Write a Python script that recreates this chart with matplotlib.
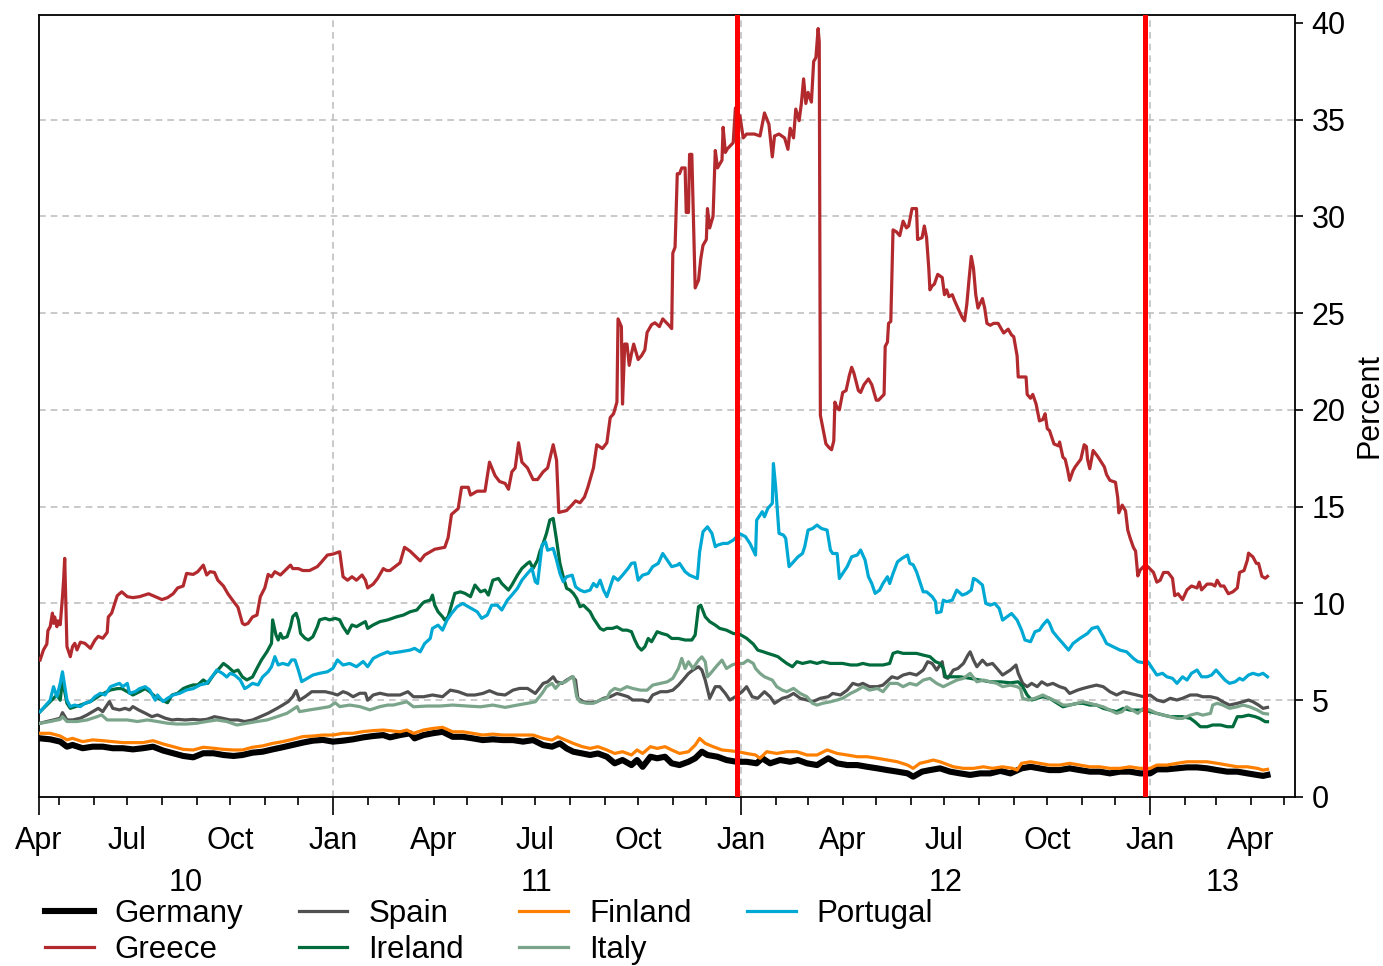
import matplotlib
matplotlib.use("Agg")
import matplotlib.pyplot as plt
import matplotlib.dates as mdates
import pandas as pd

plt.rcParams['font.family'] = ['Liberation Sans', 'DejaVu Sans']

# ---------------- data (x = calendar days since 2010-04-13, y = percent) ----------------
base_date = "2010-04-13"
end_days = 1123.6

germany_day = [1,10,19,25,30,39,48,57,66,75,84,93,102,111,120,129,138,147,156,165,174,182,191,200,209,218,227,236,245,254,263,272,281,290,299,308,314,
               323,332,336,344,352,361,370,379,388,397,406,415,424,433,442,451,459,466,472,478,486,493,500,508,515,522,530,535,540,547,553,560,566,573,581,587,593,598,607,615,624,633,642,
               647,654,663,672,679,687,696,706,714,723,732,741,750,759,768,777,782,790,797,806,815,824,833,842,851,860,869,879,887,895,904,913,922,931,940,949,958,967,976,985,994,1000,1009,1018,1027,1036,1045,1054,1063,1072,1081,1090,1095,1099]
germany_val = [3.03,2.98,2.86,2.60,2.69,2.52,2.60,2.60,2.52,2.52,2.46,2.52,2.60,2.40,2.26,2.12,2.05,2.26,2.26,2.17,2.12,2.17,2.29,2.34,2.46,2.57,2.69,2.81,2.91,2.95,2.86,2.91,2.98,3.08,3.15,3.20,3.08,
               3.20,3.29,3.03,3.20,3.29,3.37,3.11,3.11,3.03,2.94,2.98,2.94,2.94,2.86,2.94,2.68,2.60,2.77,2.51,2.34,2.25,2.17,2.25,2.08,1.74,1.91,1.65,1.91,1.56,2.08,2.00,2.08,1.74,1.65,1.82,2.00,2.34,2.17,2.08,1.91,1.82,1.82,1.74,
               2.00,1.74,1.91,1.82,1.91,1.74,1.65,2.00,1.74,1.65,1.65,1.56,1.48,1.39,1.31,1.22,1.05,1.31,1.39,1.48,1.31,1.22,1.14,1.22,1.22,1.35,1.22,1.48,1.56,1.48,1.39,1.39,1.48,1.39,1.31,1.31,1.22,1.31,1.31,1.22,1.22,1.43,1.43,1.48,1.53,1.53,1.48,1.39,1.31,1.31,1.22,1.14,1.09,1.14]

greece_day = [1,4,7,8,10,12,13,14,16,17,19,21,22,23,25,28,30,32,34,37,41,46,50,53,57,61,62,65,70,74,
              79,84,90,98,104,110,115,120,124,129,132,138,142,147,150,153,157,160,165,169,174,178,182,184,187,191,195,198,202,205,
              208,211,216,220,225,227,232,236,242,249,253,258,263,269,272,276,280,284,289,292,294,299,303,308,311,314,
              323,327,332,341,345,354,363,366,369,375,378,384,386,392,399,403,408,412,417,420,423,426,429,432,437,442,446,451,455,460,
              463,465,472,477,480,484,488,491,496,499,504,508,511,514,517,518,521,522,524,526,528,530,532,536,539,542,544,548,551,555,
              558,563,566,567,569,571,573,575,578,579,581,582,584,587,590,592,594,597,598,600,603,605,607,611,612,614,616,621,623,624,
              627,630,633,640,645,649,653,656,658,662,667,670,672,675,677,680,682,684,686,688,691,693,695,697,698,699,701,704,707,709,
              711,712,714,716,719,722,725,727,729,733,735,738,742,745,749,751,756,757,759,760,762,764,767,770,773,776,778,781,785,786,
              790,792,794,796,797,799,801,804,808,810,812,814,817,819,822,826,828,830,832,834,836,838,840,842,844,846,848,851,854,858,
              860,863,867,870,872,875,876,883,884,887,889,892,895,898,900,902,904,908,912,913,916,918,920,922,925,927,932,935,937,938,
              940,943,947,953,955,958,963,965,966,969,972,974,976,979,981,983,985,988,992,997,1000,1003,1006,1010,1014,1016,1019,1023,1027,1031,
              1036,1038,1040,1045,1049,1052,1054,1057,1060,1064,1068,1072,1074,1078,1081,1082,1086,1089,1091,1094,1097,1099]
greece_val = [7.08,7.60,7.90,8.60,8.80,9.50,8.97,9.30,8.80,9.10,8.90,10.35,11.20,12.33,7.77,7.25,7.77,7.94,7.60,8.00,7.94,7.68,8.10,8.30,8.20,8.50,9.30,9.50,10.40,10.60,
              10.35,10.30,10.35,10.50,10.35,10.20,10.30,10.50,10.80,10.90,11.55,11.50,11.64,11.98,11.47,11.64,11.60,11.20,10.90,10.50,10.10,9.80,8.97,8.90,8.97,9.30,9.40,10.35,10.80,11.50,
              11.38,11.64,11.47,11.70,11.98,11.80,11.80,11.70,11.70,11.90,12.16,12.50,12.55,12.67,11.38,11.20,11.38,11.20,11.47,11.20,10.80,11.00,11.30,11.80,11.70,11.70,
              12.10,12.90,12.70,12.20,12.50,12.80,12.90,13.40,14.60,14.90,16.00,16.00,15.60,15.80,15.80,17.30,16.60,16.30,16.20,15.90,16.80,17.00,18.30,17.30,17.00,16.40,16.40,16.80,17.00,18.20,
              17.40,14.70,14.80,15.10,15.30,15.20,15.50,16.00,17.00,18.20,18.00,18.30,19.60,19.80,20.40,24.70,24.30,20.30,23.40,23.40,22.30,22.90,23.40,22.60,22.80,23.10,24.00,24.40,24.50,24.30,
              24.70,24.40,24.20,28.10,28.40,32.20,32.20,32.50,32.50,30.20,30.20,33.20,33.20,26.30,26.70,27.80,28.50,28.80,30.40,29.40,30.00,33.40,32.50,32.90,34.60,33.30,33.50,33.80,35.60,33.90,
              35.20,34.05,34.25,34.25,34.15,35.34,34.75,33.07,34.15,34.25,34.05,33.46,34.55,34.05,35.54,34.94,35.83,37.10,35.83,36.40,35.90,38.00,38.20,39.70,39.00,19.72,19.13,18.24,18.04,17.94,
              18.40,20.40,20.10,20.00,20.90,21.00,21.80,22.20,21.90,21.00,20.90,21.30,21.60,21.30,20.50,20.50,20.80,23.28,23.50,24.47,24.57,29.30,29.20,29.00,29.75,29.40,29.50,30.40,30.40,28.80,
              28.90,29.50,28.90,27.30,26.20,26.40,26.50,27.00,26.84,25.95,26.20,25.85,25.95,25.65,25.26,24.76,24.60,25.45,26.74,27.93,27.30,25.95,25.26,25.50,25.75,25.26,24.47,24.37,24.47,24.47,
              24.27,23.97,24.17,23.87,23.78,22.79,21.70,21.70,20.80,20.60,20.80,20.30,19.43,19.50,19.80,19.03,18.93,18.24,18.14,18.34,17.55,17.45,16.96,16.36,16.86,17.06,17.45,18.20,18.10,17.45,
              16.96,17.90,17.60,17.06,16.66,16.36,16.26,15.47,14.68,15.08,14.78,13.79,13.40,12.90,12.70,11.42,11.72,11.90,11.90,11.60,11.10,11.20,11.60,11.60,11.30,10.40,10.50,10.20,10.70,10.90,
              10.80,11.10,10.70,11.00,11.00,10.90,11.20,10.90,10.90,10.50,10.60,10.80,11.60,11.70,12.24,12.60,12.40,12.07,12.07,11.40,11.30,11.40]

spain_day = [1,7,13,19,21,25,30,37,43,48,53,57,63,66,72,77,81,84,89,95,101,106,113,119,124,131,138,144,150,157,
             164,171,178,184,191,198,205,213,218,223,227,230,233,238,244,250,256,262,267,272,276,281,287,292,294,299,305,312,
             323,330,335,344,352,361,368,375,383,390,397,403,410,417,424,430,437,444,451,455,460,463,468,472,477,480,482,487,493,499,
             505,511,517,522,527,531,540,545,549,556,562,567,572,576,581,585,590,593,596,600,605,609,614,618,623,629,633,638,
             643,649,654,658,665,670,675,681,687,692,699,706,710,717,723,728,733,737,743,750,755,763,768,773,779,785,791,795,799,803,
             808,810,813,818,822,827,831,833,836,839,844,848,853,857,862,869,
             874,876,880,884,888,893,897,902,907,913,918,922,929,934,940,946,952,958,964,970,976,982,988,994,1000,1006,1012,1018,1023,1030,
             1036,1041,1048,1054,1059,1065,1072,1077,1082,1086,1091,1095,1099]
spain_val = [3.81,3.90,3.98,4.07,4.36,3.98,3.98,4.07,4.24,4.41,4.58,4.41,4.93,4.58,4.50,4.58,4.50,4.67,4.50,4.33,4.15,4.24,4.07,3.98,4.01,3.98,4.01,3.98,4.01,4.15,
             4.07,3.98,3.98,3.90,3.98,4.15,4.33,4.58,4.75,4.93,5.18,5.50,5.00,5.18,5.44,5.44,5.44,5.36,5.27,5.44,5.36,5.18,5.36,5.36,5.00,5.27,5.36,5.27,
             5.27,5.44,5.18,5.18,5.27,5.18,5.52,5.44,5.27,5.27,5.35,5.49,5.32,5.27,5.52,5.61,5.61,5.35,5.87,5.95,6.21,5.95,5.87,6.04,6.21,6.04,5.10,4.92,4.87,4.92,
             5.10,5.18,5.35,5.27,5.18,5.01,5.01,4.92,5.27,5.44,5.44,5.52,5.78,6.04,6.38,6.56,6.73,6.56,6.04,5.10,5.70,5.70,5.35,5.01,5.18,5.44,5.70,5.18,
             5.10,5.44,5.18,4.84,5.10,5.18,5.35,5.10,5.01,4.92,5.10,5.18,5.35,5.27,5.52,5.87,5.78,5.87,5.70,5.70,5.78,6.21,6.13,6.30,6.39,6.30,6.56,6.99,6.90,6.56,
             6.99,6.21,6.13,6.56,6.64,6.90,7.33,7.50,7.07,6.73,7.07,6.82,6.90,6.64,6.30,6.56,
             6.82,6.39,5.87,5.70,5.87,5.70,5.95,5.78,5.87,5.70,5.61,5.35,5.52,5.61,5.70,5.78,5.70,5.44,5.27,5.44,5.35,5.27,5.18,5.27,5.01,4.92,5.10,5.01,5.10,5.27,
             5.27,5.18,5.18,5.10,4.92,4.75,4.84,4.92,5.01,4.92,4.75,4.58,4.63]

ireland_day = [1,10,16,19,21,25,28,37,46,55,64,70,74,79,84,90,95,99,104,110,115,119,124,129,133,138,142,147,151,156,
               160,165,169,174,178,182,186,191,195,199,204,208,209,212,214,216,218,222,225,227,230,232,234,238,241,245,249,251,256,260,
               265,269,272,276,280,284,289,292,294,299,305,312,
               320,326,332,338,343,345,350,352,354,357,361,363,366,369,372,377,381,386,390,395,399,402,406,411,414,420,423,428,432,437,
               439,442,446,448,451,454,457,460,463,466,469,472,475,478,481,484,487,493,496,499,502,505,508,513,517,522,526,530,533,536,
               539,542,545,548,553,557,562,566,572,578,584,587,590,592,596,600,605,609,615,621,627,
               633,639,643,648,652,657,661,665,669,674,678,683,690,696,701,708,714,719,726,732,737,743,750,755,761,764,768,773,779,785,
               791,797,802,806,809,811,817,824,833,842,851,860,869,876,
               880,884,888,893,898,904,911,916,922,929,934,940,946,952,958,964,970,976,982,988,994,1000,1006,1012,1018,1023,1030,1034,1039,1045,
               1050,1057,1063,1068,1072,1076,1082,1088,1092,1097,1099]
ireland_val = [4.41,4.93,5.27,5.00,6.05,4.84,4.58,4.75,4.93,5.27,5.53,5.60,5.60,5.44,5.27,5.44,5.60,5.44,5.18,5.00,4.87,5.27,5.36,5.60,5.70,5.79,5.79,6.05,5.87,6.30,
               6.56,6.90,6.73,6.47,6.56,6.20,6.05,6.20,6.65,7.08,7.51,7.94,9.15,8.37,8.11,8.45,8.20,8.28,8.80,9.32,9.49,9.15,8.45,8.20,8.11,8.28,8.80,9.15,9.23,9.15,
               9.23,9.15,8.80,8.45,8.89,8.80,8.97,9.06,8.71,8.89,9.06,9.15,
               9.31,9.40,9.57,9.66,10.00,10.09,10.17,10.43,9.91,9.57,9.31,9.14,9.31,9.91,10.52,10.60,10.52,10.35,10.95,10.60,10.69,10.43,11.20,11.29,11.03,10.69,10.95,11.46,11.81,12.07,
               12.15,11.81,12.24,12.67,13.10,13.62,14.31,14.39,13.27,12.07,11.38,10.78,10.69,10.52,10.26,9.83,9.91,9.57,9.23,8.97,8.71,8.62,8.71,8.71,8.79,8.62,8.62,8.54,8.11,7.76,
               7.59,7.76,8.19,8.02,8.54,8.45,8.37,8.19,8.19,8.11,8.11,8.37,9.83,9.91,9.31,9.06,8.88,8.71,8.62,8.45,8.40,
               8.20,7.90,7.59,7.50,7.42,7.33,7.25,7.07,6.90,6.73,6.99,6.90,6.99,6.90,6.99,6.90,6.90,6.90,6.82,6.82,6.90,6.82,6.82,6.82,6.90,7.42,7.50,7.42,7.42,7.42,
               7.33,7.25,6.99,6.90,6.65,6.21,6.21,6.21,6.13,6.04,5.95,5.95,5.90,5.95,
               5.70,5.27,5.01,5.10,5.18,5.10,4.84,4.66,4.75,4.84,4.84,4.75,4.75,4.58,4.49,4.41,4.58,4.49,4.49,4.49,4.41,4.32,4.23,4.15,4.15,4.15,4.06,3.89,3.63,3.63,
               3.72,3.72,3.63,3.63,4.15,4.15,4.23,4.15,4.06,3.89,3.89]

finland_day = [1,10,19,25,30,39,48,57,66,75,84,93,102,111,120,129,138,147,156,165,174,182,191,200,209,218,227,236,245,254,263,272,281,290,299,308,
               323,329,335,344,352,361,370,379,388,397,406,415,424,433,442,451,459,464,471,478,486,493,500,508,515,522,530,535,540,547,553,560,566,573,581,587,591,596,603,611,618,625,633,641,645,
               651,660,669,678,687,696,705,714,723,732,741,750,759,768,777,782,788,794,800,806,818,827,836,845,853,862,871,
               875,879,887,895,904,913,922,931,940,949,958,967,976,985,994,1000,1009,1018,1027,1036,1045,1054,1063,1072,1081,1090,1095,1099]
finland_val = [3.29,3.29,3.15,2.95,3.03,2.86,2.95,2.91,2.86,2.81,2.81,2.81,2.91,2.74,2.60,2.46,2.43,2.57,2.52,2.46,2.43,2.43,2.57,2.64,2.77,2.86,2.98,3.12,3.15,3.20,3.20,3.29,3.29,3.38,3.43,3.46,
               3.37,3.46,3.29,3.46,3.54,3.60,3.37,3.37,3.29,3.20,3.25,3.20,3.20,3.20,3.20,3.03,2.94,3.11,2.94,2.77,2.60,2.51,2.60,2.43,2.25,2.34,2.17,2.43,2.25,2.60,2.51,2.60,2.43,2.25,2.34,2.68,3.03,2.77,2.60,2.43,2.39,2.34,2.25,2.17,2.00,
               2.34,2.25,2.34,2.34,2.17,2.17,2.43,2.25,2.17,2.08,2.08,2.00,1.91,1.82,1.65,1.48,1.74,1.82,1.91,1.82,1.56,1.48,1.48,1.56,1.48,1.56,1.48,
               1.39,1.74,1.82,1.74,1.65,1.65,1.74,1.65,1.56,1.56,1.48,1.48,1.56,1.48,1.48,1.65,1.65,1.74,1.82,1.82,1.82,1.74,1.65,1.56,1.56,1.48,1.39,1.43]

italy_day = [1,10,19,21,25,34,43,52,56,61,70,79,88,97,106,115,123,132,141,150,159,168,177,186,195,204,213,222,231,233,242,251,260,265,269,278,287,296,305,312,
             317,329,335,347,359,370,383,395,406,417,428,437,444,450,454,459,462,466,471,475,478,481,484,490,496,502,508,511,515,520,
             526,531,538,544,549,556,562,567,572,575,578,581,585,590,593,596,598,602,607,611,615,620,624,630,634,639,
             641,645,649,656,660,665,669,675,681,687,692,696,701,708,714,719,726,732,737,743,750,755,761,768,773,779,785,791,797,803,
             809,815,821,827,833,839,845,851,857,862,869,875,
             878,880,885,891,898,904,911,916,922,929,934,940,946,952,958,964,969,973,978,983,988,994,1000,1006,1012,1018,1023,1030,1036,1041,
             1048,1050,1054,1059,1065,1072,1077,1083,1090,1095,1099]
italy_val = [3.81,3.90,4.01,4.15,3.90,3.90,3.98,4.15,4.24,3.98,3.98,3.98,3.90,3.98,3.90,3.81,3.77,3.77,3.81,3.90,3.98,3.90,3.72,3.81,3.90,3.98,4.15,4.33,4.67,4.41,4.50,4.58,4.67,4.87,4.67,4.75,4.67,4.50,4.67,4.75,
             4.75,4.92,4.66,4.70,4.70,4.75,4.70,4.66,4.75,4.63,4.75,4.84,4.92,5.35,5.70,5.87,5.61,5.87,5.95,6.13,6.21,5.18,4.92,4.84,4.84,5.01,5.10,5.44,5.61,5.52,
             5.70,5.61,5.52,5.52,5.78,5.87,5.95,6.13,6.64,7.16,6.64,6.99,6.64,7.07,7.24,6.99,6.21,6.47,6.82,7.07,6.64,6.82,6.90,6.90,7.07,6.90,
             6.64,6.39,6.21,6.04,5.70,5.52,5.44,5.61,5.35,5.18,4.84,4.75,4.84,4.92,5.01,5.10,5.35,5.52,5.70,5.52,5.61,5.44,5.87,5.87,5.70,5.87,5.78,6.04,6.13,5.87,
             5.70,5.87,6.04,6.13,6.39,5.95,6.04,5.95,5.87,5.70,5.78,5.70,
             5.60,5.10,5.01,5.10,5.27,5.10,4.92,4.75,4.75,4.84,4.92,4.84,4.75,4.66,4.49,4.32,4.41,4.66,4.49,4.32,4.58,4.49,4.32,4.23,4.15,4.06,4.06,4.23,4.32,4.23,
             4.32,4.75,4.84,4.75,4.58,4.66,4.75,4.66,4.49,4.32,4.29]

portugal_day = [1,5,10,13,16,19,21,25,28,32,37,41,46,50,55,59,64,68,72,75,79,81,86,90,95,99,104,106,111,115,
                120,126,132,138,144,150,156,159,164,168,171,175,180,184,187,191,196,200,205,208,211,214,218,223,226,229,232,235,240,245,
                251,258,263,267,272,278,284,290,294,299,305,312,
                314,323,332,336,341,345,350,352,357,361,365,369,374,379,384,388,392,396,401,405,410,414,419,423,428,432,437,441,444,446,
                450,453,455,460,463,466,469,472,477,480,484,488,493,496,499,502,505,508,511,514,518,522,527,530,533,536,540,545,549,554,
                558,562,566,571,573,578,582,589,591,594,598,602,605,607,612,616,621,627,632,636,641,
                642,647,649,652,656,657,659,662,666,668,671,675,679,683,685,688,692,696,700,705,708,710,714,716,719,723,727,732,735,739,
                742,745,748,752,755,759,761,764,768,772,777,779,782,785,791,794,799,802,803,807,809,812,817,821,826,830,834,836,839,844,
                847,851,855,859,862,866,870,
                875,879,882,887,891,895,898,902,904,907,912,916,921,925,931,938,942,947,952,955,961,967,973,979,983,988,992,997,1000,1005,
                1009,1014,1018,1023,1027,1031,1036,1040,1045,1049,1053,1057,1061,1065,1070,1074,1077,1082,1086,1091,1095,1099]
portugal_val = [4.41,4.67,5.00,5.70,5.18,5.87,6.47,5.00,4.67,4.75,4.67,4.84,4.93,5.18,5.36,5.27,5.70,5.79,5.87,5.70,5.87,5.36,5.44,5.60,5.70,5.53,5.00,5.27,4.93,5.10,
                5.27,5.36,5.53,5.60,5.79,5.87,6.30,6.56,6.39,6.20,6.39,6.30,6.05,5.60,5.70,5.87,5.79,6.20,6.47,6.73,7.25,6.82,6.90,6.82,7.08,7.08,6.56,5.96,6.13,6.30,
                6.39,6.47,6.65,7.08,6.82,6.90,6.73,7.00,6.73,7.16,7.34,7.50,
                7.42,7.50,7.59,7.68,7.50,7.93,8.19,8.71,8.88,8.62,9.14,9.48,9.83,10.00,9.83,9.70,9.57,9.23,9.40,9.91,9.91,9.66,10.17,10.43,10.78,11.20,11.55,11.81,11.12,11.03,
                13.01,13.19,12.75,12.84,12.24,11.55,11.12,11.38,11.46,10.86,10.69,10.60,10.69,11.03,10.86,11.20,10.69,10.35,10.86,11.38,11.20,11.46,11.81,12.07,12.10,11.20,11.46,11.55,11.90,12.07,
                12.58,12.24,11.90,11.98,12.07,11.64,11.46,11.29,12.67,13.70,13.96,13.62,12.93,13.01,13.10,13.10,13.27,13.60,13.45,13.10,12.50,
                14.30,14.74,14.48,14.91,15.17,17.23,16.03,13.62,13.53,13.36,11.90,12.15,12.41,12.58,12.93,13.79,13.87,14.05,13.87,13.79,12.76,12.58,12.58,11.29,11.55,11.90,12.41,12.50,12.76,12.24,
                11.38,11.03,10.52,10.69,11.03,11.38,11.03,11.55,12.15,12.33,12.50,12.07,12.00,11.64,10.60,10.60,10.35,10.09,9.52,9.57,10.17,10.09,10.17,10.69,10.43,10.52,10.69,11.29,11.20,10.95,
                10.00,9.91,10.00,9.74,9.14,9.31,9.48,
                9.14,8.62,8.11,8.02,8.54,8.62,8.88,9.14,8.97,8.54,8.19,7.93,7.59,7.93,8.19,8.45,8.71,8.79,8.28,7.93,7.76,7.59,7.50,7.16,6.99,6.94,6.99,6.56,6.30,6.39,
                6.21,6.13,5.87,6.21,6.04,6.39,6.56,6.21,6.21,6.30,6.56,6.30,6.04,5.87,5.95,6.13,6.04,6.30,6.39,6.30,6.39,6.21]

event_dates = ["2011-12-28", "2012-12-27"]

quarter_dates = ["2010-04-13", "2010-07-01", "2010-10-01", "2011-01-01", "2011-04-01", "2011-07-01",
                 "2011-10-01", "2012-01-01", "2012-04-01", "2012-07-01", "2012-10-01", "2013-01-01", "2013-04-01"]
quarter_labels = ["Apr", "Jul", "Oct", "Jan", "Apr", "Jul", "Oct", "Jan", "Apr", "Jul", "Oct", "Jan", "Apr"]
years = [2010, 2011, 2012, 2013]
year_labels = ["10", "11", "12", "13"]

series = [
    ("Germany", germany_day, germany_val, "#000000", 4.4),
    ("Greece", greece_day, greece_val, "#B22A2E", 2.3),
    ("Spain", spain_day, spain_val, "#505050", 2.3),
    ("Ireland", ireland_day, ireland_val, "#006B3C", 2.3),
    ("Finland", finland_day, finland_val, "#FF8000", 2.3),
    ("Italy", italy_day, italy_val, "#7BA58B", 2.3),
    ("Portugal", portugal_day, portugal_val, "#00A8D4", 2.3),
]

# ---------------- figure ----------------
W, H = 1383, 966
fig = plt.figure(figsize=(W / 100, H / 100), dpi=100)
ax = fig.add_axes([39 / W, 1 - 797 / H, (1295 - 39) / W, (797 - 15) / H])

base = pd.Timestamp(base_date)
for name, d, v, c, lw in series:
    x = base + pd.to_timedelta(d, unit="D")
    ax.plot(x, v, color=c, lw=lw, label=name, solid_joinstyle="round", zorder=3)

for ev in event_dates:
    ax.axvline(pd.Timestamp(ev), color="#FF0000", lw=3.6, zorder=6)

x0 = base
x1 = base + pd.Timedelta(days=end_days)
ax.set_xlim(x0, x1)
ax.set_ylim(0, 40.4)

# y axis on right
ax.set_yticks(range(0, 41, 5))
ax.yaxis.tick_right()
ax.yaxis.set_label_position("right")
ax.tick_params(axis="y", which="both", left=False, right=True, direction="out",
               length=6, width=1.2, labelsize=22, pad=6)
ax.set_ylabel("Percent", fontsize=22, labelpad=6)

# x ticks: long at Jan (and axis start), short monthly
jan_ticks = [x0] + [pd.Timestamp(f"{y}-01-01") for y in years[1:]]
ax.set_xticks(jan_ticks)
ax.xaxis.set_minor_locator(mdates.MonthLocator())
ax.tick_params(axis="x", which="major", length=13, width=1.2, direction="out", labelbottom=False)
ax.tick_params(axis="x", which="minor", length=6, width=1.2, direction="out")

# grids
ax.set_axisbelow(True)
ax.grid(axis="y", color="#C0C0C0", ls=(0, (4, 3)), lw=1.2)
ax.grid(axis="x", which="major", color="#C0C0C0", ls=(0, (4, 3)), lw=1.2)
for gl, t in zip(ax.yaxis.get_gridlines(), ax.get_yticks()):
    if t <= 0 or t >= 40:
        gl.set_visible(False)
ax.xaxis.get_gridlines()[0].set_visible(False)

for s in ax.spines.values():
    s.set_linewidth(1.3)
    s.set_color("black")

# month and year labels
trans = ax.get_xaxis_transform()
for d, lab in zip(quarter_dates, quarter_labels):
    ax.text(pd.Timestamp(d), -0.056, lab, transform=trans, ha="center", va="center", fontsize=22)
for y, lab in zip(years, year_labels):
    a = max(x0, pd.Timestamp(f"{y}-01-01"))
    b = min(x1, pd.Timestamp(f"{y + 1}-01-01"))
    mid = a + (b - a) / 2
    ax.text(mid, -0.110, lab, transform=trans, ha="center", va="center", fontsize=22)

# legend
fig.legend(loc="upper left", bbox_to_anchor=(45 / W, 1 - 899 / H), ncol=4, frameon=False,
           fontsize=22.5, handlelength=1.56, handletextpad=0.67, columnspacing=1.77,
           labelspacing=0.2, borderpad=0, borderaxespad=0)

fig.savefig("out.png", dpi=100)
